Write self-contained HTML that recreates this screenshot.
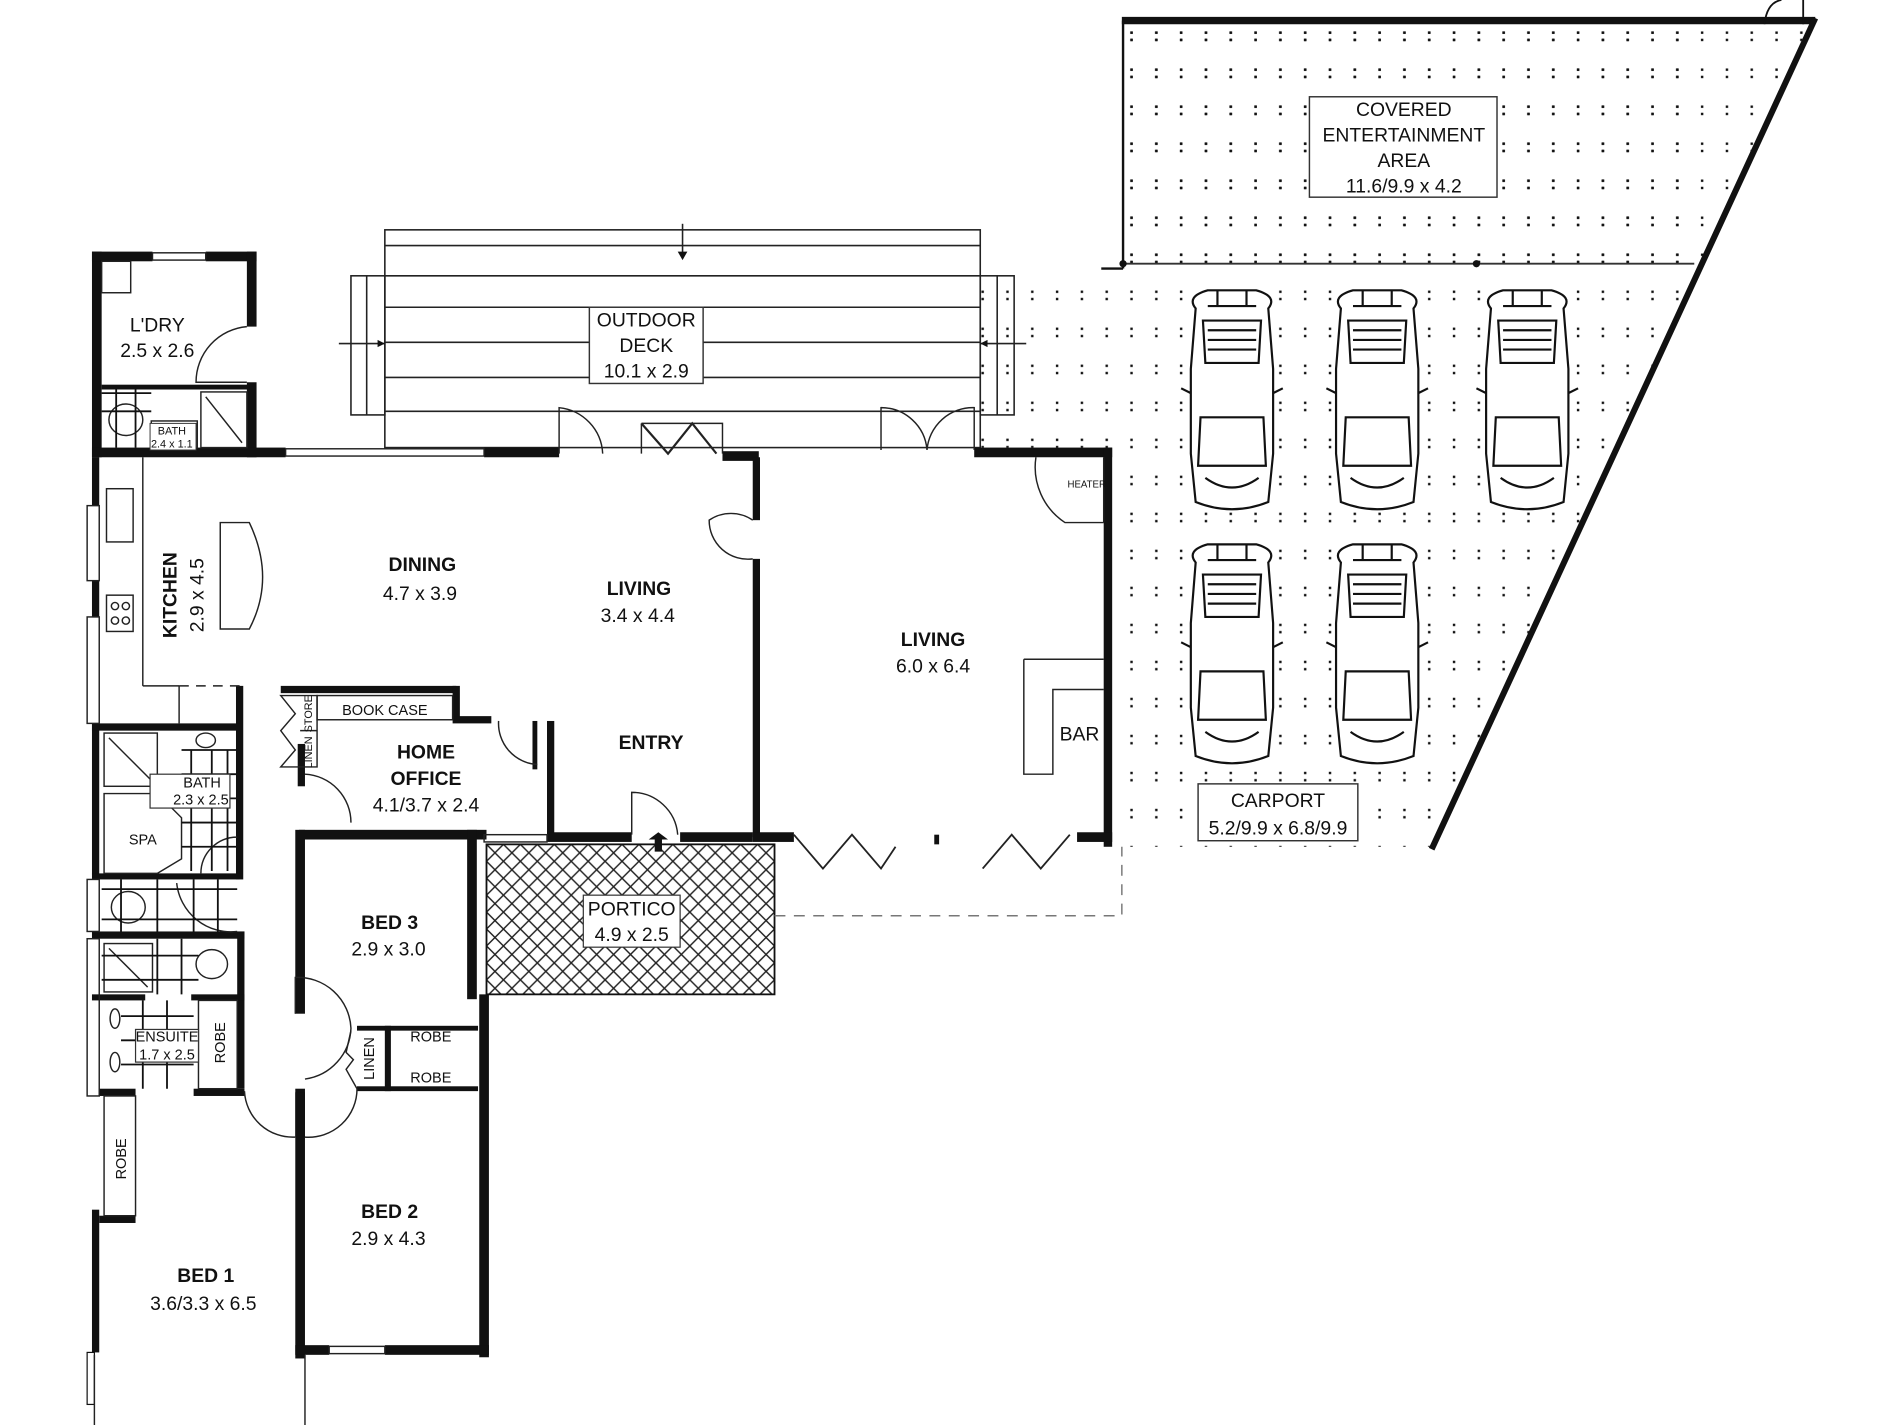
<!DOCTYPE html>
<html><head><meta charset="utf-8"><style>
html,body{margin:0;padding:0;background:#fff}
svg{display:block}
text{font-family:"Liberation Sans",sans-serif;fill:#111;text-anchor:middle}
.b{font-weight:bold;font-size:16px}
.d{font-size:16px}
.s{font-size:12px}
.xs{font-size:9px}
</style></head><body>
<svg width="1900" height="1425" viewBox="0 0 1570 1178" preserveAspectRatio="none" xmlns="http://www.w3.org/2000/svg">
<defs>
<pattern id="dots" x="930" y="22" width="20.5" height="30.6" patternUnits="userSpaceOnUse">
<rect x="4" y="4" width="2" height="2" fill="#111"/><rect x="4" y="10" width="2" height="2" fill="#111"/>
</pattern>
<pattern id="hatch" x="402" y="698" width="14" height="14" patternUnits="userSpaceOnUse">
<path d="M0 0L14 14M14 0L0 14" stroke="#222" stroke-width="1.2"/>
</pattern>
<g id="car" fill="none" stroke="#111" stroke-width="1.8">
<path d="M-30 -80 Q-38 -90 -20 -95 L20 -95 Q38 -90 30 -80 L34 -30 L34 40 L30 80 Q0 92 -30 80 L-34 40 L-34 -30 Z"/>
<path d="M-24 -70 L24 -70 L22 -35 L-22 -35 Z"/>
<path d="M-20 -62 L20 -62 M-20 -54 L20 -54 M-20 -46 L20 -46"/>
<path d="M-26 10 L26 10 L28 50 L-28 50 Z"/>
<path d="M-22 60 Q0 76 22 60"/>
<path d="M-34 -10 L-42 -14 M34 -10 L42 -14"/>
<path d="M-12 -95 L-12 -82 M12 -95 L12 -82 M-20 -82 L20 -82"/>
</g>
</defs>

<!-- covered entertainment area -->
<rect x="928" y="20" width="470" height="198" fill="url(#dots)"/>
<polygon points="928,20 1495,20 1183,700 927,700" fill="url(#dots)"/>
<polygon points="810,225 928,225 928,700 918,700 918,370 810,370" fill="url(#dots)"/>
<rect x="918" y="225" width="12" height="480" fill="#fff"/>
<line x1="927" y1="17" x2="1500" y2="17" stroke="#111" stroke-width="6"/>
<line x1="1500" y1="15" x2="1183" y2="702" stroke="#111" stroke-width="5"/>
<line x1="928" y1="17" x2="928" y2="222" stroke="#111" stroke-width="2"/>
<line x1="928" y1="218" x2="1400" y2="218" stroke="#333" stroke-width="1.5"/>
<circle cx="928" cy="218" r="3" fill="#111"/><circle cx="1220" cy="218" r="3" fill="#111"/>
<line x1="910" y1="222" x2="928" y2="222" stroke="#111" stroke-width="2"/>
<path d="M1458 20 Q1460 2 1472 0 M1490 0 L1490 20" fill="none" stroke="#111" stroke-width="1.5"/>
<rect x="1082" y="80" width="155" height="83" fill="#fff" stroke="#333" stroke-width="1.2"/>
<text class="d" x="1160" y="96">COVERED</text>
<text class="d" x="1160" y="117">ENTERTAINMENT</text>
<text class="d" x="1160" y="138">AREA</text>
<text class="d" x="1160" y="159">11.6/9.9 x 4.2</text>

<!-- cars -->
<g transform="translate(1018,335)"><rect x="-36" y="-96" width="72" height="184" fill="#fff"/><use href="#car"/></g>
<g transform="translate(1138,335)"><rect x="-36" y="-96" width="72" height="184" fill="#fff"/><use href="#car"/></g>
<g transform="translate(1262,335)"><rect x="-36" y="-96" width="72" height="184" fill="#fff"/><use href="#car"/></g>
<g transform="translate(1018,545)"><rect x="-36" y="-96" width="72" height="184" fill="#fff"/><use href="#car"/></g>
<g transform="translate(1138,545)"><rect x="-36" y="-96" width="72" height="184" fill="#fff"/><use href="#car"/></g>

<rect x="990" y="648" width="132" height="47" fill="#fff" stroke="#333" stroke-width="1.2"/>
<text class="d" x="1056" y="667">CARPORT</text>
<text class="d" x="1056" y="690">5.2/9.9 x 6.8/9.9</text>

<!-- outdoor deck -->
<g stroke="#222" stroke-width="1.3" fill="none">
<rect x="318" y="190" width="492" height="180"/>
<line x1="318" y1="203" x2="810" y2="203"/>
<line x1="318" y1="228" x2="810" y2="228"/>
<line x1="318" y1="254" x2="810" y2="254"/>
<line x1="318" y1="283" x2="810" y2="283"/>
<line x1="318" y1="312" x2="810" y2="312"/>
<line x1="318" y1="340" x2="810" y2="340"/>
<rect x="290" y="228" width="28" height="115"/><line x1="303" y1="228" x2="303" y2="343"/>
<rect x="810" y="228" width="28" height="115"/><line x1="824" y1="228" x2="824" y2="343"/>
<line x1="564" y1="185" x2="564" y2="212"/><line x1="280" y1="284" x2="318" y2="284"/><line x1="810" y1="284" x2="848" y2="284"/>
</g>
<path d="M560 208 L568 208 L564 215Z M312 281 L318 284 L312 287Z M816 281 L810 284 L816 287Z" fill="#111"/>
<rect x="487" y="254" width="94" height="63" fill="#fff" stroke="#333" stroke-width="1.2"/>
<text class="d" x="534" y="270">OUTDOOR</text>
<text class="d" x="534" y="291">DECK</text>
<text class="d" x="534" y="312">10.1 x 2.9</text>

<!-- portico -->
<rect x="402" y="698" width="238" height="124" fill="url(#hatch)" stroke="#111" stroke-width="1.5"/>
<rect x="482" y="740" width="80" height="43" fill="#fff" stroke="#333"/>
<text class="d" x="522" y="757">PORTICO</text>
<text class="d" x="522" y="778">4.9 x 2.5</text>
<path d="M640 757 L927 757 L927 700" fill="none" stroke="#777" stroke-width="1.2" stroke-dasharray="9,7"/>

<!-- walls -->
<g fill="#111">
<rect x="76" y="208" width="8" height="170"/>
<rect x="76" y="208" width="50" height="8"/><rect x="170" y="208" width="42" height="8"/>
<rect x="204" y="208" width="8" height="62"/>
<rect x="204" y="316" width="8" height="62"/>
<rect x="84" y="318" width="122" height="4"/>
<rect x="76" y="370" width="160" height="8"/>
<rect x="400" y="370" width="62" height="8"/>
<rect x="597" y="373" width="30" height="8"/>
<rect x="805" y="370" width="114" height="8"/>
<rect x="622" y="378" width="6" height="52"/>
<rect x="622" y="462" width="6" height="230"/>
<rect x="912" y="370" width="7" height="330"/>
<rect x="622" y="688" width="34" height="8"/>
<rect x="890" y="688" width="29" height="8"/>
<rect x="452" y="596" width="6" height="96"/>
<rect x="452" y="688" width="70" height="8"/>
<rect x="562" y="688" width="60" height="8"/>
<rect x="772" y="690" width="4" height="8"/>
<rect x="76" y="378" width="6" height="40"/>
<rect x="76" y="480" width="6" height="30"/>
<rect x="76" y="598" width="6" height="125"/>
<rect x="76" y="1000" width="6" height="118"/>
<rect x="72" y="1118" width="6" height="43" fill="#fff" stroke="#111" stroke-width="1"/>
<rect x="195" y="567" width="6" height="160"/>
<rect x="76" y="598" width="122" height="6"/>
<rect x="76" y="722" width="122" height="5"/>
<rect x="76" y="770" width="126" height="6"/>
<rect x="196" y="770" width="6" height="130"/>
<rect x="76" y="822" width="44" height="5"/>
<rect x="158" y="822" width="44" height="5"/>
<rect x="82" y="900" width="30" height="6"/><rect x="160" y="900" width="42" height="6"/>
<rect x="82" y="1005" width="30" height="6"/>
<rect x="232" y="567" width="145" height="6"/>
<rect x="374" y="567" width="6" height="28"/>
<rect x="374" y="592" width="32" height="6"/>
<rect x="246" y="615" width="6" height="35"/>
<rect x="247" y="686" width="155" height="8"/>
<rect x="440" y="596" width="4" height="40"/>
<rect x="244" y="686" width="8" height="152"/>
<rect x="386" y="686" width="8" height="140"/>
<rect x="396" y="822" width="8" height="300"/>
<rect x="244" y="900" width="8" height="40"/>
<rect x="244" y="903" width="8" height="220"/>
<rect x="244" y="1112" width="28" height="8"/><rect x="318" y="1112" width="86" height="8"/>
<rect x="295" y="848" width="100" height="4"/>
<rect x="295" y="898" width="100" height="4"/>
<rect x="318" y="848" width="5" height="54"/>
</g>
<g fill="none" stroke="#222" stroke-width="1.2">
<rect x="236" y="371" width="164" height="6"/>
<rect x="126" y="209" width="44" height="6"/>
<rect x="72" y="418" width="10" height="62"/>
<rect x="72" y="510" width="10" height="88"/>
<rect x="72" y="727" width="10" height="43"/>
<rect x="72" y="776" width="10" height="130"/>
<line x1="118" y1="378" x2="118" y2="567"/><line x1="118" y1="567" x2="148" y2="567"/>
<line x1="148" y1="567" x2="198" y2="567" stroke-dasharray="8,6"/>
<line x1="148" y1="567" x2="148" y2="598"/>
<path d="M182 432 L206 432 Q228 478 206 520 L182 520 Z"/>
<rect x="88" y="404" width="22" height="44"/><rect x="88" y="492" width="22" height="30"/>
<circle cx="95" cy="501" r="3"/><circle cx="104" cy="501" r="3"/><circle cx="95" cy="513" r="3"/><circle cx="104" cy="513" r="3"/>
<rect x="84" y="216" width="24" height="26"/>
<path d="M204 270 A46 46 0 0 0 162 316 L204 316"/>
<rect x="166" y="324" width="38" height="46"/><line x1="170" y1="328" x2="200" y2="366"/>
<ellipse cx="104" cy="347" rx="14" ry="13"/>
<rect x="125" y="348" width="38" height="22"/>
<path d="M462 375 L462 337 A40 40 0 0 1 498 375"/>
<path d="M530 350 L597 350 L597 375 M530 350 L530 375"/>
<path d="M530 350 L552 375 L572 350 L592 375" stroke-width="1.8"/>
<path d="M728 372 L728 337 A38 38 0 0 1 766 372 M805 372 L805 337 A38 38 0 0 0 766 372"/>
<path d="M622 430 A32 32 0 0 0 586 430 A32 32 0 0 0 622 462"/>
<path d="M856 378 A55 55 0 0 0 880 432 L912 432"/>
<path d="M912 378 L912 432"/>
<path d="M846 545 L912 545 M846 545 L846 640 L870 640 L870 570 L912 570"/>
<path d="M412 596 A34 34 0 0 0 444 632"/>
<path d="M252 640 A40 40 0 0 1 290 680"/>
<path d="M522 690 L522 655 A38 38 0 0 1 560 690"/>
<path d="M656 690 L680 718 L704 690 L728 718 L740 700" stroke-width="1.5"/>
<path d="M812 718 L836 690 L860 718 L884 690" stroke-width="1.5"/>
<rect x="400" y="690" width="52" height="6"/>
<path d="M232 575 L244 590 L232 604 L244 620 L232 634 L262 634 L262 575 Z"/>
<line x1="248" y1="604" x2="262" y2="604"/>
<rect x="262" y="575" width="112" height="20"/>
<rect x="86" y="606" width="44" height="44"/><line x1="90" y1="610" x2="126" y2="646"/>
<path d="M86 656 L130 656 L150 676 L150 710 L130 722 L86 722 Z"/>
<ellipse cx="170" cy="612" rx="8" ry="6"/>
<path d="M196 692 A30 30 0 0 0 166 722"/>
<ellipse cx="106" cy="750" rx="14" ry="13"/>
<path d="M146 730 A45 45 0 0 0 196 770"/>
<rect x="86" y="780" width="40" height="40"/><line x1="90" y1="784" x2="122" y2="816"/>
<ellipse cx="175" cy="797" rx="13" ry="12"/>
<rect x="164" y="827" width="32" height="73"/>
<rect x="86" y="906" width="26" height="99"/>
<ellipse cx="95" cy="842" rx="4" ry="8"/><ellipse cx="95" cy="878" rx="4" ry="8"/>
<path d="M244 838 L244 808 A44 44 0 0 1 290 850 A44 44 0 0 1 252 892"/>
<path d="M290 852 L286 870 L292 876 L286 884 L295 900"/>
<path d="M202 902 A40 40 0 0 0 244 940 M252 940 A40 40 0 0 0 295 900"/>
<rect x="272" y="1113" width="46" height="6"/>
<line x1="252" y1="1120" x2="252" y2="1178"/>
<line x1="78" y1="1120" x2="78" y2="1178"/>
</g>
<path d="M541 690 L541 700 L536 700 L544 706 L552 700 L547 700 L547 690Z" fill="#111" transform="rotate(180 544 697)"/>

<g stroke="#111" stroke-width="1.5" fill="none">
<path d="M84 325 L125 325 M84 340 L125 340 M96 322 L96 370 M112 322 L112 370"/>
<path d="M150 620 L196 620 M150 640 L196 640 M150 660 L196 660 M150 680 L196 680 M150 700 L196 700 M158 620 L158 720 M175 620 L175 720 M188 620 L188 720"/>
<path d="M84 735 L196 735 M84 760 L196 760 M100 727 L100 770 M130 727 L130 770 M160 727 L160 770 M180 727 L180 770"/>
<path d="M84 790 L164 790 M84 810 L164 810 M130 776 L130 822 M150 776 L150 822"/>
<path d="M100 840 L160 840 M100 860 L160 860 M100 880 L160 880 M118 827 L118 900 M138 827 L138 900"/>
</g>
<rect x="124" y="640" width="66" height="28" fill="#fff" stroke="#333"/>
<rect x="112" y="851" width="52" height="27" fill="#fff" stroke="#333"/>
<rect x="124" y="350" width="38" height="22" fill="#fff" stroke="#333" stroke-width="0.8"/>

<text class="d" x="130" y="274">L'DRY</text>
<text class="d" x="130" y="295">2.5 x 2.6</text>
<text class="xs" x="142" y="359">BATH</text>
<text class="xs" x="142" y="370">2.4 x 1.1</text>
<text class="b" transform="translate(146,492) rotate(-90)">KITCHEN</text>
<text class="d" transform="translate(168,492) rotate(-90)">2.9 x 4.5</text>
<text class="b" x="349" y="472">DINING</text>
<text class="d" x="347" y="496">4.7 x 3.9</text>
<text class="b" x="528" y="492">LIVING</text>
<text class="d" x="527" y="514">3.4 x 4.4</text>
<text class="b" x="538" y="619">ENTRY</text>
<text class="b" x="771" y="534">LIVING</text>
<text class="d" x="771" y="556">6.0 x 6.4</text>
<text class="d" x="892" y="612">BAR</text>
<text x="898" y="403" style="font-size:8px">HEATER</text>
<text class="s" x="318" y="591">BOOK CASE</text>
<text class="xs" transform="translate(258,590) rotate(-90)">STORE</text>
<text class="xs" transform="translate(258,622) rotate(-90)">LINEN</text>
<text class="b" x="352" y="627">HOME</text>
<text class="b" x="352" y="649">OFFICE</text>
<text class="d" x="352" y="671">4.1/3.7 x 2.4</text>
<text class="s" x="167" y="651">BATH</text>
<text class="s" x="166" y="665">2.3 x 2.5</text>
<text class="s" x="118" y="698">SPA</text>
<text class="s" x="138" y="861">ENSUITE</text>
<text class="s" x="138" y="876">1.7 x 2.5</text>
<text class="s" transform="translate(186,862) rotate(-90)">ROBE</text>
<text class="s" transform="translate(104,958) rotate(-90)">ROBE</text>
<text class="b" x="322" y="768">BED 3</text>
<text class="d" x="321" y="790">2.9 x 3.0</text>
<text class="s" transform="translate(309,875) rotate(-90)">LINEN</text>
<text class="s" x="356" y="861">ROBE</text>
<text class="s" x="356" y="895">ROBE</text>
<text class="b" x="322" y="1007">BED 2</text>
<text class="d" x="321" y="1029">2.9 x 4.3</text>
<text class="b" x="170" y="1060">BED 1</text>
<text class="d" x="168" y="1083">3.6/3.3 x 6.5</text>
</svg>
</body></html>
